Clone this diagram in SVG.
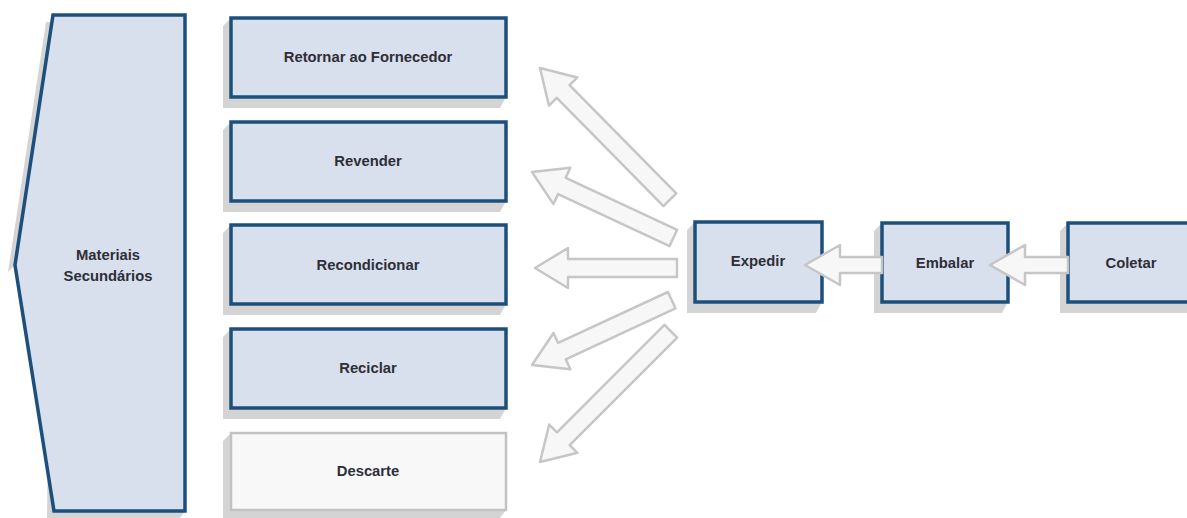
<svg xmlns="http://www.w3.org/2000/svg" width="1187" height="518" viewBox="0 0 1187 518">
<defs>
<style>
.sh{fill:#d4d4d4;}
.bx{fill:#d7e0ec;stroke:#1d4f7c;stroke-width:3.5;}
.bxg{fill:#f8f8f8;stroke:#c2c2c2;stroke-width:2.5;}
.ar{fill:#f7f7f7;stroke:#c6c6c6;stroke-width:2.5;stroke-linejoin:round;}
.t{font-family:"Liberation Sans",Arial,sans-serif;font-weight:bold;font-size:14.8px;fill:#2e2e38;text-anchor:middle;dominant-baseline:middle;}
</style>
</defs>
<rect width="1187" height="518" fill="#ffffff"/>

<g id="materiais">
<polygon class="sh" points="46,22 53,22 47,518 180,518 185,511 54,511 15,265 8,272"/>
<polygon class="bx" points="53,15 185,15 185,511 54,511 15,265"/>
<text class="t" x="108" y="256">Materiais</text>
<text class="t" x="108" y="277">Secundários</text>
</g>

<g id="retornar">
<polygon class="sh" points="223,26 231,18 231,97 506,97 500,108 223,108"/>
<rect class="bx" x="231" y="18" width="275" height="79"/>
<text class="t" x="368" y="58">Retornar ao Fornecedor</text>
</g>
<g id="revender">
<polygon class="sh" points="223,130 231,122 231,201 506,201 500,212 223,212"/>
<rect class="bx" x="231" y="122" width="275" height="79"/>
<text class="t" x="368" y="162">Revender</text>
</g>
<g id="recondicionar">
<polygon class="sh" points="223,233 231,225 231,304 506,304 500,315 223,315"/>
<rect class="bx" x="231" y="225" width="275" height="79"/>
<text class="t" x="368" y="266">Recondicionar</text>
</g>
<g id="reciclar">
<polygon class="sh" points="223,337 231,329 231,408 506,408 500,419 223,419"/>
<rect class="bx" x="231" y="329" width="275" height="79"/>
<text class="t" x="368" y="369">Reciclar</text>
</g>
<g id="descarte">
<polygon class="sh" points="223,441 231,433 231,510 506,510 500,518 223,518"/>
<rect class="bxg" x="231" y="433" width="275" height="77"/>
<text class="t" x="368" y="472">Descarte</text>
</g>

<g id="expedir">
<polygon class="sh" points="687,230 695,222 695,302 822,302 816,313 687,313"/>
<rect class="bx" x="695" y="222" width="127" height="80"/>
<text class="t" x="758" y="262">Expedir</text>
</g>
<g id="embalar">
<polygon class="sh" points="874,231 882,223 882,302 1008,302 1002,313 874,313"/>
<rect class="bx" x="882" y="223" width="126" height="79"/>
<text class="t" x="945" y="264">Embalar</text>
</g>
<g id="coletar">
<polygon class="sh" points="1060,231 1068,223 1068,302 1190,302 1190,313 1060,313"/>
<rect class="bx" x="1068" y="223" width="125" height="79"/>
<text class="t" x="1131" y="264">Coletar</text>
</g>

<g id="connectors">
<polygon class="ar" transform="translate(540,68) rotate(45.4)" points="0,0 33,-20 33,-9 185,-9 185,9 33,9 33,20"/>
<polygon class="ar" transform="translate(532,172) rotate(25)" points="0,0 33,-20 33,-9 156,-9 156,9 33,9 33,20"/>
<polygon class="ar" transform="translate(535,268)" points="0,0 33,-20 33,-9 142,-9 142,9 33,9 33,20"/>
<polygon class="ar" transform="translate(532,365) rotate(-24.9)" points="0,0 33,-20 33,-9 154,-9 154,9 33,9 33,20"/>
<polygon class="ar" transform="translate(540,462) rotate(-45)" points="0,0 33,-20 33,-9 185,-9 185,9 33,9 33,20"/>
<polygon class="ar" transform="translate(805,265)" points="0,0 35,-20 35,-8 77,-8 77,8 35,8 35,20"/>
<polygon class="ar" transform="translate(990,265)" points="0,0 35,-20 35,-8 78,-8 78,8 35,8 35,20"/>
</g>
</svg>
